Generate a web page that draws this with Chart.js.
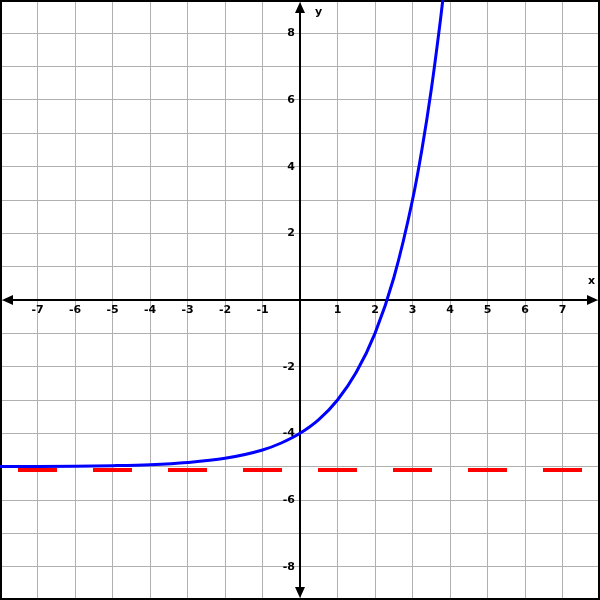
<!DOCTYPE html>
<html>
<head>
<meta charset="utf-8">
<script src="https://cdn.jsdelivr.net/npm/chart.js@4"></script>
<style>
  html, body { margin: 0; padding: 0; background: #fff; }
  #wrap { width: 600px; height: 600px; position: relative; }
</style>
</head>
<body>
<div id="wrap"><canvas id="myChart" width="600" height="600"></canvas></div>
<script>
    // curve points
    var xValues = [-8, -7, -6, -5, -4, -3, -2, -1, -0.5, 0, 0.5, 1, 1.5, 2, 2.5, 3, 3.25, 3.5, 3.75, 3.82];
    var yValues = [-4.996, -4.992, -4.984, -4.969, -4.94, -4.875, -4.75, -4.5, -4.29, -4, -3.59, -3, -2.17, -1, 0.66, 3, 4.51, 6.31, 8.45, 9.12];
    // dashed red asymptote
    var asymX = [-8, 8];
    var asymY = [-5.1, -5.1];
    var xTickLabels = [-7, -6, -5, -4, -3, -2, -1, 1, 2, 3, 4, 5, 6, 7];
    var yTickLabels = [-8, -6, -4, -2, 2, 4, 6, 8];

    var curve = xValues.map(function (x, i) { return {x: x, y: yValues[i]}; });
    var asym = asymX.map(function (x, i) { return {x: x, y: asymY[i]}; });

    function arrow(ctx, x, y, dir) {
        ctx.beginPath();
        if (dir == 'left') { ctx.moveTo(x, y); ctx.lineTo(x + 11, y - 5); ctx.lineTo(x + 11, y + 5); }
        if (dir == 'right') { ctx.moveTo(x, y); ctx.lineTo(x - 11, y - 5); ctx.lineTo(x - 11, y + 5); }
        if (dir == 'up') { ctx.moveTo(x, y); ctx.lineTo(x - 5, y + 11); ctx.lineTo(x + 5, y + 11); }
        if (dir == 'down') { ctx.moveTo(x, y); ctx.lineTo(x - 5, y - 11); ctx.lineTo(x + 5, y - 11); }
        ctx.closePath();
        ctx.fill();
    }

    const axesPlugin = {
        id: 'axesPlugin',
        beforeDatasetsDraw(chart) {
            const ctx = chart.ctx;
            const xs = chart.scales.x, ys = chart.scales.y;
            const ox = xs.getPixelForValue(0), oy = ys.getPixelForValue(0);
            const a = chart.chartArea;
            ctx.save();
            ctx.strokeStyle = '#000';
            ctx.fillStyle = '#000';
            ctx.lineWidth = 2;
            ctx.beginPath();
            ctx.moveTo(a.left + 4, oy); ctx.lineTo(a.right - 4, oy);
            ctx.moveTo(ox, a.top + 4); ctx.lineTo(ox, a.bottom - 4);
            ctx.stroke();
            arrow(ctx, a.left + 2, oy, 'left');
            arrow(ctx, a.right - 2, oy, 'right');
            arrow(ctx, ox, a.top + 2, 'up');
            arrow(ctx, ox, a.bottom - 2, 'down');

            ctx.font = 'bold 11px "DejaVu Sans", sans-serif';
            ctx.textAlign = 'center';
            ctx.textBaseline = 'middle';
            xTickLabels.forEach(function (v) {
                ctx.fillText(String(v), xs.getPixelForValue(v), oy + 10);
            });
            ctx.textAlign = 'right';
            yTickLabels.forEach(function (v) {
                ctx.fillText(String(v), ox - 5, ys.getPixelForValue(v));
            });
            ctx.textAlign = 'left';
            ctx.fillText('y', ox + 15, a.top + 12);
            ctx.fillText('x', a.right - 12, oy - 19);

            // frame
            ctx.lineWidth = 2;
            ctx.strokeRect(a.left + 1, a.top + 1, a.right - a.left - 2, a.bottom - a.top - 2);
            ctx.restore();
        }
    };

    const ctx = document.getElementById('myChart').getContext('2d');
    const myChart = new Chart(ctx, {
        type: 'scatter',
        data: {
            datasets: [{
                    data: asym,
                    showLine: true,
                    borderColor: '#ff0000',
                    borderWidth: 4,
                    borderDash: [39, 36],
                    borderDashOffset: 57,
                    pointRadius: 0,
                    order: 2
                }, {
                    data: curve,
                    showLine: true,
                    borderColor: '#0000ff',
                    borderWidth: 3,
                    cubicInterpolationMode: 'monotone',
                    pointRadius: 0,
                    order: 1
                }]
        },
        options: {
            responsive: false,
            animation: false,
            layout: { padding: 0 },
            plugins: { legend: { display: false }, tooltip: { enabled: false } },
            scales: {
                x: {
                    type: 'linear', min: -8, max: 8,
                    ticks: { stepSize: 1, display: false },
                    grid: { color: '#b0b0b0', lineWidth: 1, drawTicks: false },
                    border: { display: false }
                },
                y: {
                    type: 'linear', min: -9, max: 9,
                    ticks: { stepSize: 1, display: false },
                    grid: { color: '#b0b0b0', lineWidth: 1, drawTicks: false },
                    border: { display: false }
                }
            }
        },
        plugins: [axesPlugin]
    });
</script>
</body>
</html>
